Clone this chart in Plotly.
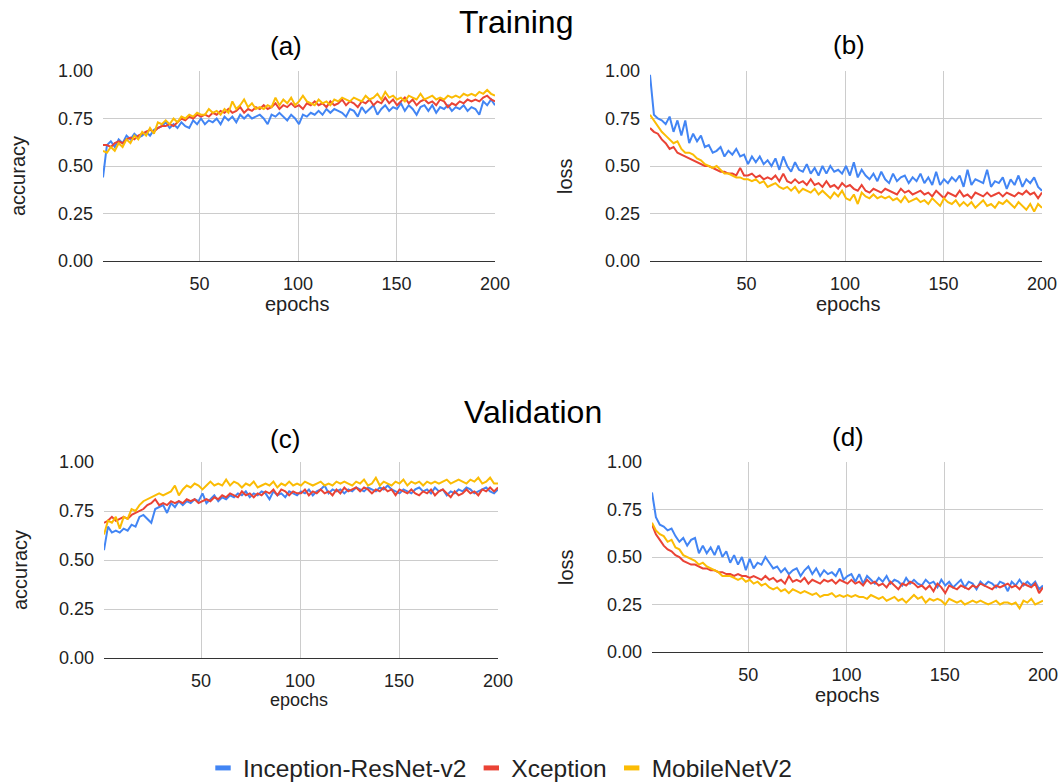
import numpy as np
import plotly.graph_objects as go

W, H = 1062, 782

series_names = ["Inception-ResNet-v2", "Xception", "MobileNetV2"]
colors = ["#4285F4", "#EA4335", "#FBBC04"]
x_ticks = [50, 100, 150, 200]
y_ticks = [0, 0.25, 0.5, 0.75, 1.0]

# (a) training accuracy
train_acc_incep = [0.44, 0.61, 0.63, 0.60, 0.64, 0.62, 0.66, 0.64, 0.67, 0.65,
    0.66, 0.68, 0.66, 0.69, 0.70, 0.71, 0.73, 0.70, 0.72, 0.70,
    0.73, 0.71, 0.70, 0.74, 0.72, 0.75, 0.72, 0.74, 0.73, 0.75,
    0.72, 0.76, 0.74, 0.76, 0.73, 0.77, 0.75, 0.77, 0.75, 0.76,
    0.77, 0.75, 0.72, 0.77, 0.76, 0.78, 0.76, 0.74, 0.77, 0.75,
    0.72, 0.77, 0.76, 0.78, 0.77, 0.79, 0.77, 0.80, 0.78, 0.80,
    0.79, 0.78, 0.76, 0.80, 0.79, 0.76, 0.81, 0.78, 0.80, 0.82,
    0.77, 0.80, 0.82, 0.79, 0.81, 0.80, 0.83, 0.79, 0.82, 0.80,
    0.77, 0.81, 0.82, 0.79, 0.82, 0.78, 0.81, 0.80, 0.82, 0.79,
    0.81, 0.80, 0.82, 0.79, 0.81, 0.80, 0.77, 0.84, 0.82, 0.85,
    0.82]
train_acc_xcep = [0.61, 0.61, 0.60, 0.62, 0.63, 0.62, 0.64, 0.65, 0.64, 0.66,
    0.67, 0.68, 0.69, 0.68, 0.70, 0.71, 0.71, 0.72, 0.71, 0.73,
    0.75, 0.74, 0.76, 0.75, 0.77, 0.76, 0.77, 0.76, 0.78, 0.77,
    0.79, 0.78, 0.80, 0.78, 0.79, 0.81, 0.78, 0.80, 0.79, 0.81,
    0.80, 0.82, 0.80, 0.81, 0.83, 0.80, 0.82, 0.81, 0.83, 0.81,
    0.82, 0.80, 0.83, 0.82, 0.84, 0.82, 0.83, 0.81, 0.84, 0.82,
    0.83, 0.85, 0.82, 0.84, 0.83, 0.81, 0.84, 0.83, 0.85, 0.82,
    0.84, 0.83, 0.86, 0.83, 0.85, 0.82, 0.84, 0.86, 0.83, 0.85,
    0.82, 0.84, 0.85, 0.83, 0.84, 0.82, 0.85, 0.84, 0.81, 0.83,
    0.82, 0.84, 0.83, 0.85, 0.84, 0.85, 0.84, 0.86, 0.87, 0.85,
    0.84]
train_acc_mobile = [0.58, 0.57, 0.60, 0.58, 0.62, 0.60, 0.64, 0.62, 0.66, 0.64,
    0.68, 0.66, 0.70, 0.67, 0.73, 0.72, 0.74, 0.72, 0.75, 0.73,
    0.76, 0.75, 0.77, 0.76, 0.78, 0.77, 0.77, 0.80, 0.78, 0.79,
    0.77, 0.80, 0.78, 0.84, 0.80, 0.82, 0.85, 0.81, 0.83, 0.80,
    0.81, 0.80, 0.82, 0.81, 0.86, 0.82, 0.85, 0.83, 0.86, 0.82,
    0.84, 0.87, 0.84, 0.83, 0.82, 0.85, 0.83, 0.84, 0.82, 0.85,
    0.84, 0.86, 0.85, 0.84, 0.86, 0.85, 0.84, 0.87, 0.85, 0.86,
    0.88, 0.85, 0.89, 0.86, 0.87, 0.85, 0.86, 0.84, 0.87, 0.86,
    0.85, 0.88, 0.85, 0.86, 0.87, 0.85, 0.86, 0.85, 0.87, 0.86,
    0.87, 0.86, 0.88, 0.87, 0.88, 0.87, 0.89, 0.88, 0.90, 0.88,
    0.87]

# (b) training loss
train_loss_incep = [0.98, 0.77, 0.75, 0.74, 0.72, 0.76, 0.68, 0.74, 0.66, 0.74,
    0.62, 0.67, 0.63, 0.66, 0.60, 0.61, 0.57, 0.58, 0.60, 0.55,
    0.58, 0.56, 0.59, 0.55, 0.56, 0.51, 0.55, 0.52, 0.55, 0.51,
    0.53, 0.50, 0.54, 0.48, 0.55, 0.50, 0.47, 0.52, 0.48, 0.47,
    0.51, 0.46, 0.49, 0.45, 0.50, 0.46, 0.50, 0.47, 0.48, 0.46,
    0.50, 0.45, 0.52, 0.44, 0.48, 0.45, 0.43, 0.46, 0.42, 0.47,
    0.43, 0.41, 0.46, 0.42, 0.44, 0.45, 0.41, 0.44, 0.42, 0.46,
    0.41, 0.44, 0.40, 0.47, 0.40, 0.43, 0.41, 0.44, 0.42, 0.45,
    0.39, 0.48, 0.40, 0.43, 0.42, 0.41, 0.48, 0.39, 0.42, 0.41,
    0.44, 0.38, 0.43, 0.40, 0.45, 0.39, 0.43, 0.41, 0.44, 0.39,
    0.37]
train_loss_xcep = [0.70, 0.68, 0.67, 0.64, 0.62, 0.59, 0.60, 0.57, 0.56, 0.55,
    0.54, 0.53, 0.52, 0.51, 0.50, 0.50, 0.49, 0.48, 0.47, 0.47,
    0.46, 0.46, 0.45, 0.49, 0.45, 0.45, 0.46, 0.44, 0.45, 0.43,
    0.44, 0.43, 0.45, 0.42, 0.46, 0.42, 0.41, 0.43, 0.41, 0.42,
    0.40, 0.43, 0.40, 0.41, 0.39, 0.42, 0.39, 0.40, 0.38, 0.41,
    0.39, 0.40, 0.38, 0.37, 0.40, 0.37, 0.36, 0.38, 0.37, 0.36,
    0.38, 0.37, 0.36, 0.35, 0.38, 0.36, 0.37, 0.35, 0.36, 0.37,
    0.35, 0.36, 0.34, 0.37, 0.35, 0.33, 0.36, 0.35, 0.34, 0.37,
    0.34, 0.35, 0.33, 0.36, 0.35, 0.34, 0.36, 0.34, 0.35, 0.36,
    0.34, 0.36, 0.35, 0.34, 0.36, 0.35, 0.37, 0.35, 0.36, 0.33,
    0.36]
train_loss_mobile = [0.77, 0.74, 0.71, 0.68, 0.66, 0.64, 0.62, 0.63, 0.59, 0.57,
    0.57, 0.56, 0.54, 0.53, 0.51, 0.50, 0.49, 0.50, 0.48, 0.46,
    0.46, 0.45, 0.44, 0.44, 0.43, 0.43, 0.42, 0.43, 0.41, 0.42,
    0.39, 0.40, 0.41, 0.39, 0.38, 0.39, 0.37, 0.39, 0.36, 0.38,
    0.37, 0.36, 0.38, 0.35, 0.37, 0.35, 0.33, 0.36, 0.34, 0.37,
    0.33, 0.32, 0.35, 0.30, 0.36, 0.34, 0.33, 0.35, 0.33, 0.34,
    0.33, 0.34, 0.32, 0.33, 0.31, 0.34, 0.31, 0.32, 0.33, 0.31,
    0.32, 0.30, 0.33, 0.31, 0.29, 0.33, 0.31, 0.30, 0.32, 0.29,
    0.31, 0.29, 0.31, 0.28, 0.30, 0.32, 0.29, 0.30, 0.28, 0.31,
    0.30, 0.32, 0.30, 0.28, 0.31, 0.29, 0.27, 0.30, 0.26, 0.30,
    0.28]

# (c) validation accuracy
val_acc_incep = [0.55, 0.67, 0.64, 0.65, 0.64, 0.66, 0.65, 0.68, 0.67, 0.72,
    0.73, 0.71, 0.69, 0.76, 0.77, 0.78, 0.74, 0.79, 0.77, 0.80,
    0.78, 0.80, 0.79, 0.81, 0.80, 0.84, 0.79, 0.81, 0.83, 0.80,
    0.82, 0.81, 0.83, 0.82, 0.84, 0.83, 0.85, 0.82, 0.84, 0.83,
    0.85, 0.84, 0.81, 0.85, 0.83, 0.84, 0.82, 0.85, 0.84, 0.83,
    0.85, 0.84, 0.86, 0.83, 0.85, 0.86, 0.88, 0.84, 0.86, 0.85,
    0.86, 0.84, 0.86, 0.85, 0.87, 0.86, 0.85, 0.87, 0.86, 0.85,
    0.87, 0.86, 0.88, 0.86, 0.85, 0.84, 0.86, 0.85, 0.84, 0.86,
    0.87, 0.85, 0.86, 0.84, 0.87, 0.85, 0.86, 0.83, 0.85, 0.84,
    0.86, 0.85, 0.87, 0.86, 0.84, 0.85, 0.86, 0.87, 0.85, 0.84,
    0.86]
val_acc_xcep = [0.69, 0.70, 0.72, 0.70, 0.71, 0.72, 0.71, 0.73, 0.74, 0.75,
    0.76, 0.78, 0.79, 0.81, 0.78, 0.79, 0.78, 0.80, 0.79, 0.80,
    0.79, 0.81, 0.80, 0.81, 0.79, 0.80, 0.81, 0.80, 0.82, 0.81,
    0.83, 0.82, 0.84, 0.83, 0.82, 0.85, 0.83, 0.84, 0.82, 0.84,
    0.83, 0.85, 0.84, 0.86, 0.83, 0.86, 0.85, 0.83, 0.85, 0.84,
    0.84, 0.86, 0.83, 0.85, 0.84, 0.86, 0.84, 0.85, 0.83, 0.86,
    0.84, 0.87, 0.85, 0.86, 0.87, 0.85, 0.87, 0.86, 0.84, 0.86,
    0.85, 0.87, 0.85, 0.86, 0.83, 0.86, 0.85, 0.84, 0.86, 0.84,
    0.83, 0.85, 0.84, 0.86, 0.83, 0.85, 0.86, 0.84, 0.82, 0.85,
    0.83, 0.84, 0.86, 0.84, 0.85, 0.83, 0.86, 0.85, 0.87, 0.85,
    0.87]
val_acc_mobile = [0.63, 0.70, 0.69, 0.72, 0.66, 0.72, 0.71, 0.76, 0.75, 0.78,
    0.80, 0.81, 0.82, 0.83, 0.84, 0.83, 0.84, 0.85, 0.88, 0.83,
    0.86, 0.88, 0.87, 0.89, 0.88, 0.86, 0.88, 0.90, 0.88, 0.89,
    0.88, 0.91, 0.88, 0.90, 0.89, 0.87, 0.89, 0.88, 0.90, 0.87,
    0.88, 0.89, 0.88, 0.90, 0.87, 0.89, 0.88, 0.90, 0.88, 0.89,
    0.88, 0.90, 0.89, 0.88, 0.89, 0.90, 0.88, 0.89, 0.88, 0.90,
    0.89, 0.90, 0.89, 0.88, 0.90, 0.89, 0.91, 0.88, 0.89, 0.92,
    0.88, 0.90, 0.89, 0.88, 0.90, 0.89, 0.91, 0.88, 0.90, 0.89,
    0.90, 0.88, 0.90, 0.89, 0.90, 0.89, 0.90, 0.91, 0.89, 0.90,
    0.91, 0.90, 0.89, 0.91, 0.90, 0.92, 0.89, 0.90, 0.92, 0.89,
    0.89]

# (d) validation loss
val_loss_incep = [0.84, 0.71, 0.67, 0.66, 0.64, 0.65, 0.61, 0.58, 0.60, 0.56,
    0.59, 0.60, 0.52, 0.56, 0.52, 0.55, 0.51, 0.56, 0.50, 0.53,
    0.47, 0.51, 0.46, 0.50, 0.43, 0.49, 0.44, 0.47, 0.46, 0.50,
    0.47, 0.44, 0.45, 0.42, 0.44, 0.41, 0.43, 0.44, 0.40, 0.43,
    0.45, 0.41, 0.44, 0.40, 0.43, 0.41, 0.42, 0.40, 0.44, 0.38,
    0.40, 0.41, 0.37, 0.41, 0.36, 0.40, 0.38, 0.36, 0.39, 0.37,
    0.40, 0.36, 0.38, 0.37, 0.35, 0.39, 0.36, 0.38, 0.36, 0.35,
    0.38, 0.36, 0.37, 0.34, 0.38, 0.35, 0.37, 0.34, 0.36, 0.38,
    0.34, 0.37, 0.36, 0.33, 0.37, 0.35, 0.37, 0.36, 0.34, 0.37,
    0.36, 0.32, 0.37, 0.35, 0.38, 0.35, 0.37, 0.35, 0.37, 0.33,
    0.35]
val_loss_xcep = [0.67, 0.62, 0.59, 0.56, 0.54, 0.53, 0.51, 0.50, 0.48, 0.47,
    0.46, 0.46, 0.45, 0.44, 0.44, 0.43, 0.43, 0.42, 0.42, 0.41,
    0.41, 0.40, 0.41, 0.40, 0.40, 0.39, 0.40, 0.39, 0.38, 0.40,
    0.38, 0.39, 0.37, 0.38, 0.36, 0.40, 0.37, 0.38, 0.37, 0.39,
    0.36, 0.38, 0.37, 0.36, 0.38, 0.37, 0.38, 0.36, 0.38, 0.37,
    0.36, 0.38, 0.36, 0.37, 0.35, 0.38, 0.36, 0.37, 0.35, 0.36,
    0.34, 0.37, 0.35, 0.33, 0.36, 0.35, 0.37, 0.36, 0.34, 0.35,
    0.33, 0.35, 0.32, 0.36, 0.34, 0.31, 0.35, 0.34, 0.33, 0.35,
    0.34, 0.33, 0.35, 0.34, 0.36, 0.35, 0.34, 0.33, 0.35, 0.34,
    0.35, 0.36, 0.34, 0.35, 0.33, 0.36, 0.35, 0.34, 0.36, 0.31,
    0.34]
val_loss_mobile = [0.68, 0.64, 0.62, 0.61, 0.58, 0.59, 0.55, 0.54, 0.51, 0.50,
    0.49, 0.48, 0.46, 0.47, 0.45, 0.44, 0.43, 0.42, 0.40, 0.40,
    0.40, 0.39, 0.38, 0.39, 0.37, 0.38, 0.36, 0.37, 0.35, 0.36,
    0.34, 0.33, 0.34, 0.32, 0.33, 0.31, 0.33, 0.32, 0.31, 0.32,
    0.31, 0.30, 0.31, 0.29, 0.30, 0.30, 0.31, 0.29, 0.30, 0.29,
    0.30, 0.29, 0.30, 0.29, 0.29, 0.28, 0.30, 0.29, 0.28, 0.29,
    0.27, 0.28, 0.29, 0.27, 0.28, 0.26, 0.28, 0.30, 0.28, 0.29,
    0.26, 0.28, 0.27, 0.28, 0.27, 0.25, 0.28, 0.27, 0.26, 0.27,
    0.25, 0.26, 0.27, 0.26, 0.27, 0.26, 0.25, 0.26, 0.27, 0.25,
    0.26, 0.26, 0.25, 0.26, 0.23, 0.27, 0.26, 0.28, 0.25, 0.26,
    0.27]

panels = [
    ("(a)", "accuracy", [train_acc_incep, train_acc_xcep, train_acc_mobile]),
    ("(b)", "loss", [train_loss_incep, train_loss_xcep, train_loss_mobile]),
    ("(c)", "accuracy", [val_acc_incep, val_acc_xcep, val_acc_mobile]),
    ("(d)", "loss", [val_loss_incep, val_loss_xcep, val_loss_mobile]),
]

# plot area boxes in window pixels (left, right, top, bottom)
boxes = [(103, 495, 71, 261), (650, 1042, 71, 261),
         (104, 498, 462, 658), (652, 1043, 462, 652)]

FONT = "Liberation Sans, Arial, sans-serif"

def fx(x):
    return x / W

def fy(y):
    return 1 - y / H

fig = go.Figure()
layout = dict(
    width=W, height=H, margin=dict(l=0, r=0, t=0, b=0, autoexpand=False),
    paper_bgcolor="white", plot_bgcolor="white",
    font=dict(family=FONT, color="#222222"),
    showlegend=True,
)

for i, ((lab, ylab, data), (l, r, t, b)) in enumerate(zip(panels, boxes)):
    n = i + 1
    xa = "xaxis" if n == 1 else f"xaxis{n}"
    ya = "yaxis" if n == 1 else f"yaxis{n}"
    xr = "x" if n == 1 else f"x{n}"
    yr = "y" if n == 1 else f"y{n}"
    layout[xa] = dict(
        domain=[fx(l), fx(r)], anchor=yr, range=[1, 200],
        tickvals=x_ticks, showgrid=True, gridcolor="#cccccc", gridwidth=1,
        zeroline=False, showline=True, linecolor="#333333", linewidth=1,
        ticks="", ticklabelstandoff=6, tickfont=dict(size=18, color="#222222"),
        automargin=False,
    )
    layout[ya] = dict(
        domain=[fy(b), fy(t)], anchor=xr, range=[0, 1],
        tickvals=y_ticks, tickformat=".2f", showgrid=True, gridcolor="#cccccc",
        gridwidth=1, zeroline=False, showline=False, ticks="",
        ticklabelstandoff=9, tickfont=dict(size=18, color="#222222"),
        automargin=False,
    )
    for s, (vals, name, col) in enumerate(zip(data, series_names, colors)):
        x = np.linspace(1, 200, len(vals))
        fig.add_trace(go.Scatter(
            x=x, y=vals, mode="lines", name=name,
            line=dict(color=col, width=2), xaxis=xr, yaxis=yr,
            showlegend=False, hoverinfo="skip",
        ))

# legend entries (short thick dash markers)
for name, col in zip(series_names, colors):
    fig.add_trace(go.Scatter(
        x=[None], y=[None], mode="markers", name=name,
        marker=dict(symbol="line-ew-open", size=11, color=col,
                    line=dict(color=col, width=5)),
        showlegend=True,
    ))

annotations = []
def text(x, y, s, size, angle=0, color="#000000"):
    annotations.append(dict(x=fx(x), y=fy(y), xref="paper", yref="paper", text=s,
                            showarrow=False, xanchor="center", yanchor="middle",
                            textangle=angle, font=dict(size=size, color=color, family=FONT)))

text(516, 22, "Training", 32)
text(533, 412, "Validation", 32)
text(286, 46, "(a)", 26)
text(849, 45, "(b)", 26)
text(285, 439, "(c)", 26)
text(848, 437, "(d)", 26)
text(297, 304, "epochs", 20, color="#222222")
text(848, 304, "epochs", 20, color="#222222")
text(299, 700, "epochs", 18, color="#222222")
text(847, 695, "epochs", 20, color="#222222")
text(18, 176, "accuracy", 20, angle=-90, color="#222222")
text(565, 176, "loss", 20, angle=-90, color="#222222")
text(20, 570, "accuracy", 20, angle=-90, color="#222222")
text(566, 567, "loss", 20, angle=-90, color="#222222")

layout["annotations"] = annotations
layout["legend"] = dict(orientation="h", x=fx(500), y=fy(768), xanchor="center", yanchor="middle",
                        font=dict(size=24.5, color="#222222", family=FONT),
                        itemsizing="trace", bgcolor="rgba(0,0,0,0)")
fig.update_layout(**layout)
# remove the default page margin so the figure fills the window exactly
fig.write_html("out.html", config={"displayModeBar": False},
               post_script="document.body.style.margin='0';")
